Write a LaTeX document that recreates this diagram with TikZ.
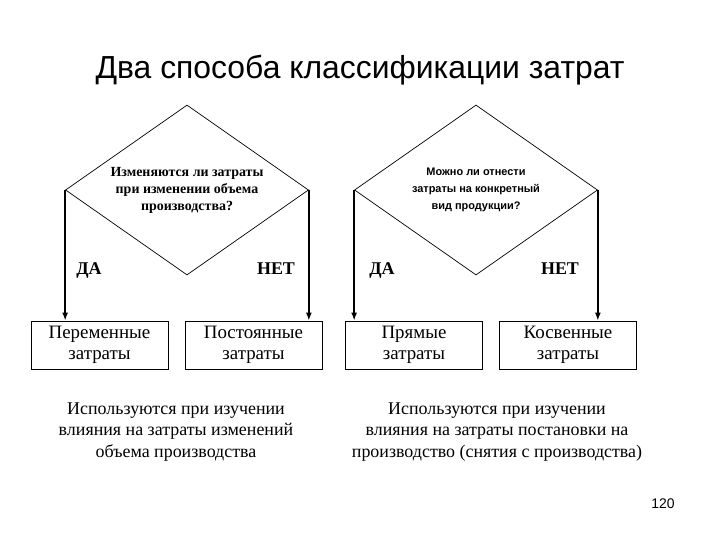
\documentclass[tikz,border=0pt]{standalone}
\usepackage{fontspec}
\setmainfont{Liberation Serif}
\setsansfont{Liberation Sans}
\usetikzlibrary{arrows.meta,positioning,shapes.geometric}
\tikzset{
  question/.style={diamond,draw=black,line width=0.7pt,aspect=1.43,
                   minimum width=243bp,minimum height=170bp,
                   inner sep=0pt,align=center},
  kindbox/.style={draw=black,line width=0.9pt,
                  minimum width=137bp,minimum height=48bp,
                  align=center,font=\fontsize{19}{21}\selectfont},
  answer/.style={anchor=base,font=\fontsize{18}{20}\selectfont\bfseries},
  note/.style={align=center,font=\fontsize{18}{21.5}\selectfont},
  downarr/.style={-{Latex[length=8bp,width=6bp]},line width=1.4pt}
}
\begin{document}
\begin{tikzpicture}[x=1bp,y=-1bp]
  \useasboundingbox (0,0) rectangle (720,540);
  \node[font=\sffamily\fontsize{32}{36}\selectfont] (title) at (360,70) {Два способа классификации затрат};

  \node[question,font=\fontsize{14}{17}\selectfont\bfseries] (vol) at (187,190)
    {Изменяются ли затраты\\при изменении объема\\производства?};
  \node[question,font=\sffamily\bfseries\fontsize{11}{17}\selectfont] (prod) at (476,190)
    {Можно ли отнести\\затраты на конкретный\\вид продукции?};

  \node[answer] (volyes) at (89,275) {ДА};
  \node[answer] (volno) at (276,275) {НЕТ};
  \node[answer] (prodyes) at (382,275) {ДА};
  \node[answer] (prodno) at (560,275) {НЕТ};

  \node[kindbox] (var) at (99.5,345) {Переменные\\затраты};
  \node[kindbox] (fix) at (253.5,345) {Постоянные\\затраты};
  \node[kindbox] (dir) at (414,345) {Прямые\\затраты};
  \node[kindbox] (ind) at (568,345) {Косвенные\\затраты};

  \draw[downarr] (vol.west) -- (vol.west |- var.north);
  \draw[downarr] (vol.east) -- (vol.east |- fix.north);
  \draw[downarr] (prod.west) -- (prod.west |- dir.north);
  \draw[downarr] (prod.east) -- (prod.east |- ind.north);

  \node[note] (volnote) at (176,432)
    {Используются при изучении\\влияния на затраты изменений\\объема производства};
  \node[note] (prodnote) at (497,432)
    {Используются при изучении\\влияния на затраты постановки на\\производство (снятия с производства)};

  \node[font=\sffamily\fontsize{14}{16}\selectfont] (page) at (663,504) {120};
\end{tikzpicture}
\end{document}
